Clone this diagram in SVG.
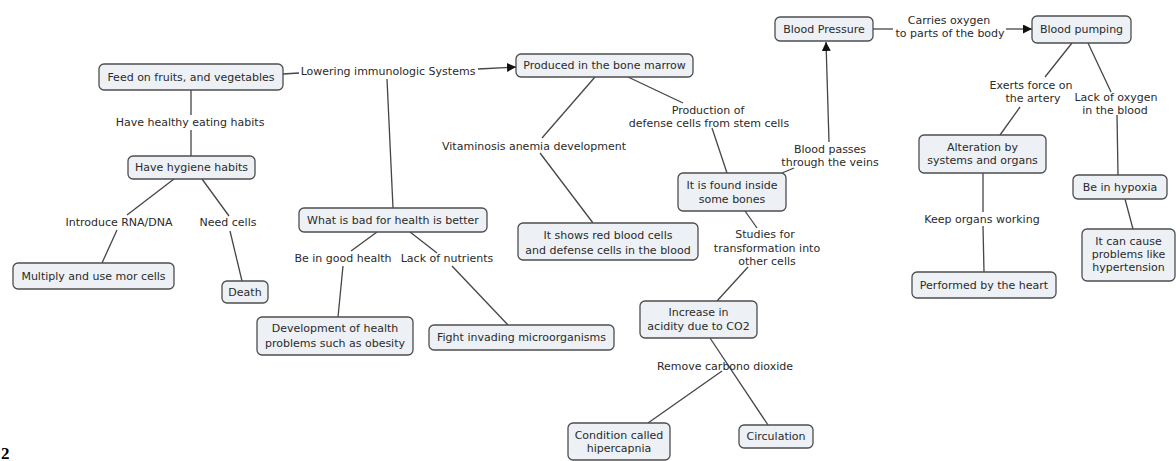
<svg xmlns="http://www.w3.org/2000/svg" width="1176" height="461" viewBox="0 0 1176 461">
<style>
.n rect{fill:#edf1f5;stroke:#4d4d4d;stroke-width:1.3}
text{font-family:"DejaVu Sans",Verdana,sans-serif;font-size:11px;fill:#2a2a2a;text-anchor:middle}
.c line{stroke:#454545;stroke-width:1.3}
.num{font-family:"Liberation Serif",serif;font-size:17px;font-weight:bold;fill:#000;text-anchor:start}
</style>
<defs>
<marker id="ah" viewBox="0 0 10 10" refX="10" refY="5" markerWidth="9" markerHeight="9" markerUnits="userSpaceOnUse" orient="auto">
<path d="M0,0 L10,5 L0,10 z" fill="#111"/>
</marker>
</defs>
<rect width="1176" height="461" fill="#fff"/>
<g class="c" id="connectors">
<line x1="283" y1="74" x2="299" y2="73"/>
<line x1="478" y1="69" x2="516" y2="67" marker-end="url(#ah)"/>
<line x1="387" y1="79" x2="393" y2="208"/>
<line x1="191" y1="90" x2="191" y2="115"/>
<line x1="191" y1="130" x2="191" y2="156"/>
<line x1="174" y1="179" x2="127" y2="215"/>
<line x1="117" y1="230" x2="102" y2="263"/>
<line x1="202" y1="179" x2="229" y2="216"/>
<line x1="230" y1="231" x2="242" y2="281"/>
<line x1="595" y1="77" x2="542" y2="138"/>
<line x1="540" y1="153" x2="593" y2="223"/>
<line x1="628" y1="77" x2="683" y2="103"/>
<line x1="712" y1="128" x2="727" y2="173"/>
<line x1="782" y1="173" x2="794" y2="168"/>
<line x1="829" y1="142" x2="826" y2="42" marker-end="url(#ah)"/>
<line x1="745" y1="211" x2="757" y2="228"/>
<line x1="748" y1="267" x2="717" y2="301"/>
<line x1="710" y1="338" x2="768" y2="425"/>
<line x1="722" y1="371" x2="648" y2="423"/>
<line x1="873" y1="29" x2="893" y2="29"/>
<line x1="1006" y1="29" x2="1032" y2="29" marker-end="url(#ah)"/>
<line x1="1072" y1="43" x2="1045" y2="77"/>
<line x1="1020" y1="107" x2="1000" y2="135"/>
<line x1="1088" y1="43" x2="1111" y2="92"/>
<line x1="1117" y1="115" x2="1118" y2="175"/>
<line x1="1125" y1="199" x2="1133" y2="229"/>
<line x1="983" y1="173" x2="983" y2="212"/>
<line x1="983" y1="226" x2="984" y2="272"/>
<line x1="377" y1="232" x2="351" y2="251"/>
<line x1="343" y1="266" x2="338" y2="317"/>
<line x1="410" y1="232" x2="437" y2="253"/>
<line x1="452" y1="266" x2="508" y2="325"/>
</g>
<g id="labels">
<text x="388" y="75">Lowering immunologic Systems</text>
<text x="190" y="126">Have healthy eating habits</text>
<text x="119" y="226">Introduce RNA/DNA</text>
<text x="228" y="226">Need cells</text>
<text x="534" y="150">Vitaminosis anemia development</text>
<text x="708" y="114">Production of</text>
<text x="709" y="127">defense cells from stem cells</text>
<text x="343" y="262">Be in good health</text>
<text x="447" y="262">Lack of nutrients</text>
<text x="830" y="153">Blood passes</text>
<text x="830" y="166">through the veins</text>
<text x="765" y="238">Studies for</text>
<text x="767" y="252">transformation into</text>
<text x="767" y="265">other cells</text>
<text x="725" y="370">Remove carbono dioxide</text>
<text x="949" y="24">Carries oxygen</text>
<text x="950" y="37">to parts of the body</text>
<text x="1031" y="89">Exerts force on</text>
<text x="1033" y="102">the artery</text>
<text x="1116" y="101">Lack of oxygen</text>
<text x="1115" y="114">in the blood</text>
<text x="982" y="223">Keep organs working</text>
</g>
<g class="n" id="n1"><rect x="99" y="64" width="184" height="26" rx="5"/><text x="191" y="81">Feed on fruits, and vegetables</text></g>
<g class="n" id="n2"><rect x="128" y="156" width="127" height="23" rx="5"/><text x="191.5" y="171">Have hygiene habits</text></g>
<g class="n" id="n3"><rect x="13" y="263" width="161" height="26" rx="5"/><text x="93.5" y="280">Multiply and use mor cells</text></g>
<g class="n" id="n4"><rect x="222" y="281" width="46" height="22" rx="5"/><text x="245" y="296">Death</text></g>
<g class="n" id="n5"><rect x="516" y="54" width="177" height="23" rx="5"/><text x="604.5" y="69">Produced in the bone marrow</text></g>
<g class="n" id="n6"><rect x="299" y="208" width="188" height="24" rx="5"/><text x="393" y="224">What is bad for health is better</text></g>
<g class="n" id="n7"><rect x="257" y="317" width="156" height="38" rx="5"/><text x="335" y="332">Development of health</text><text x="335" y="347">problems such as obesity</text></g>
<g class="n" id="n8"><rect x="429" y="325" width="185" height="25" rx="5"/><text x="521.5" y="341">Fight invading microorganisms</text></g>
<g class="n" id="n9"><rect x="518" y="223" width="180" height="37" rx="5"/><text x="608" y="239">It shows red blood cells</text><text x="608" y="254">and defense cells in the blood</text></g>
<g class="n" id="n10"><rect x="678" y="173" width="108" height="38" rx="5"/><text x="732" y="189">It is found inside</text><text x="732" y="203">some bones</text></g>
<g class="n" id="n11"><rect x="640" y="301" width="117" height="37" rx="5"/><text x="698.5" y="316">Increase in</text><text x="698.5" y="330">acidity due to CO2</text></g>
<g class="n" id="n12"><rect x="568" y="423" width="102" height="37" rx="5"/><text x="619" y="439">Condition called</text><text x="619" y="452">hipercapnia</text></g>
<g class="n" id="n13"><rect x="739" y="425" width="74" height="23" rx="5"/><text x="776" y="440">Circulation</text></g>
<g class="n" id="n14"><rect x="775" y="17" width="98" height="24" rx="5"/><text x="824" y="33">Blood Pressure</text></g>
<g class="n" id="n15"><rect x="1032" y="16" width="99" height="27" rx="5"/><text x="1081.5" y="33">Blood pumping</text></g>
<g class="n" id="n16"><rect x="919" y="135" width="127" height="38" rx="5"/><text x="982.5" y="151">Alteration by</text><text x="982.5" y="164">systems and organs</text></g>
<g class="n" id="n17"><rect x="1073" y="175" width="94" height="24" rx="5"/><text x="1120" y="191">Be in hypoxia</text></g>
<g class="n" id="n18"><rect x="1082" y="229" width="93" height="52" rx="5"/><text x="1128.5" y="245">It can cause</text><text x="1128.5" y="258">problems like</text><text x="1128.5" y="271">hypertension</text></g>
<g class="n" id="n19"><rect x="912" y="272" width="144" height="26" rx="5"/><text x="984" y="289">Performed by the heart</text></g>
<text class="num" x="1" y="459">2</text>
</svg>
